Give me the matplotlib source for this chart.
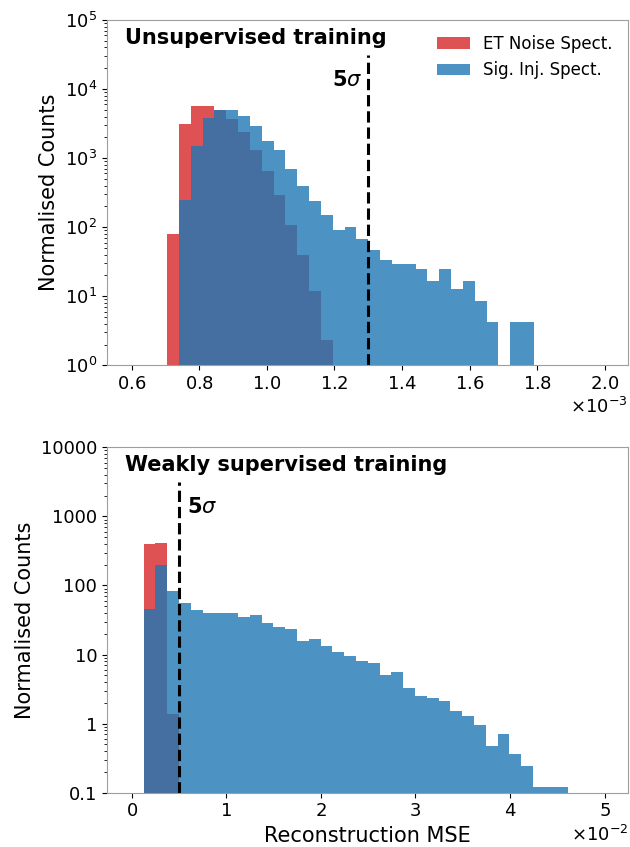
import numpy as np
import matplotlib
matplotlib.use("Agg")
import matplotlib.pyplot as plt

# --- unsupervised panel (MSE in units of 1e-3, normalised counts per bin)
unsup_lo, unsup_hi = 0.7051e-3, 1.7906e-3
unsup_noise = [81, 3076, 5590, 5590, 4900, 3630, 2380, 1326, 651, 290, 108, 40, 11.8, 2.35,
               0, 0, 0, 0, 0, 0, 0, 0, 0, 0, 0, 0, 0, 0, 0, 0, 0]
unsup_sig = [0, 246, 1515, 3840, 4900, 5010, 4105, 2945, 1788, 1309, 705, 401, 238, 148,
             92, 100, 67, 46, 33.5, 29.4, 29.4, 25.2, 16.8, 25.2, 12.6, 16.8, 8.4, 4.2, 0, 4.2, 4.2]
unsup_thr = 1.3e-3

# --- weakly supervised panel (MSE in units of 1e-2)
weak_lo, weak_hi = 0.1268e-2, 4.617e-2
weak_noise = [393, 406, 1.37] + [0] * 33
weak_sig = [45.5, 197.6, 81.8, 55.6, 44, 39.3, 39.3, 39.5, 34.8, 37.2, 28.5, 25.2, 23.3, 15.7,
            16.7, 13.1, 11.0, 9.4, 8.0, 7.6, 5.1, 5.6, 3.3, 2.5, 2.36, 2.13, 1.54, 1.31, 0.95,
            0.47, 0.71, 0.36, 0.24, 0.12, 0.12, 0.12]
weak_thr = 0.5e-2

weak_yticks = [0.1, 1, 10, 100, 1000, 10000]
weak_ylabels = ['0.1', '1', '10', '100', '1000', '10000']

fig = plt.figure(figsize=(6.3, 8.47), dpi=100)
ax1 = fig.add_axes([0.1698, 0.5687, 0.827, 0.4077])
ax2 = fig.add_axes([0.1698, 0.0641, 0.827, 0.4078])


def draw_panel(ax, lo, hi, noise, sig):
    edges = np.linspace(lo, hi, len(sig) + 1)
    centers = 0.5 * (edges[1:] + edges[:-1])
    ax.set_yscale('log', nonpositive='clip')
    ax.hist(centers, bins=edges, weights=noise, histtype='stepfilled',
            color='tab:red', alpha=0.8, label='ET Noise Spect.')
    ax.hist(centers, bins=edges, weights=sig, histtype='stepfilled',
            color='tab:blue', alpha=0.8, label='Sig. Inj. Spect.')
    for s in ax.spines.values():
        s.set_color('0.62')
    ax.tick_params(labelsize=13)
    ax.ticklabel_format(axis='x', style='sci', scilimits=(0, 0), useMathText=True)
    ax.xaxis.get_offset_text().set_fontsize(13)
    ax.set_ylabel('Normalised Counts', fontsize=15)


draw_panel(ax1, unsup_lo, unsup_hi, unsup_noise, unsup_sig)
ax1.set_xlim(0.527e-3, 2.069e-3)
ax1.set_ylim(1, 1e5)
ax1.set_xticks([0.6e-3, 0.8e-3, 1.0e-3, 1.2e-3, 1.4e-3, 1.6e-3, 1.8e-3, 2.0e-3])
ax1.axvline(unsup_thr, ymax=0.9, color='k', ls='--', lw=2.2)
ax1.text(0.035, 0.948, 'Unsupervised training', transform=ax1.transAxes,
         fontsize=15, fontweight='bold', va='center', ha='left')
ax1.text(1.283e-3, 0.826, '5$\\sigma$', transform=ax1.get_xaxis_transform(),
         fontsize=15, fontweight='bold', va='center', ha='right')
ax1.legend(loc='upper right', frameon=False, fontsize=12)

draw_panel(ax2, weak_lo, weak_hi, weak_noise, weak_sig)
ax2.set_xlim(-0.261e-2, 5.246e-2)
ax2.set_ylim(0.1, 1e4)
ax2.set_yticks(weak_yticks)
ax2.set_yticklabels(weak_ylabels)
ax2.set_xticks([0, 1e-2, 2e-2, 3e-2, 4e-2, 5e-2])
ax2.axvline(weak_thr, ymax=0.9, color='k', ls='--', lw=2.2)
ax2.text(0.035, 0.949, 'Weakly supervised training', transform=ax2.transAxes,
         fontsize=15, fontweight='bold', va='center', ha='left')
ax2.text(0.58e-2, 0.827, '5$\\sigma$', transform=ax2.get_xaxis_transform(),
         fontsize=15, fontweight='bold', va='center', ha='left')
ax2.set_xlabel('Reconstruction MSE', fontsize=15)

fig.savefig('out.png', dpi=100)
